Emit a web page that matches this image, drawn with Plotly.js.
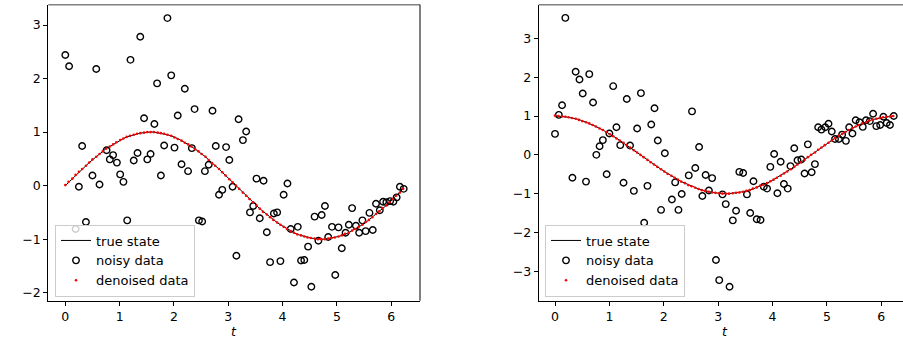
<!DOCTYPE html>
<html>
<head>
<meta charset="utf-8">
<script src="https://cdn.plot.ly/plotly-3.0.1.min.js"></script>
<style>html,body{margin:0;padding:0;background:#fff;}#chart{width:903px;height:342px;}</style>
</head>
<body>
<div id="chart"></div>
<script>
// time grid (shared by true state and denoised data)
const tGrid = [0.00,0.06,0.13,0.19,0.25,0.31,0.38,0.44,0.50,0.57,0.63,0.69,0.75,0.82,0.88,0.94,1.01,1.07,1.13,1.19,
  1.26,1.32,1.38,1.45,1.51,1.57,1.63,1.70,1.76,1.82,1.88,1.95,2.01,2.07,2.14,2.20,2.26,2.32,2.39,2.45,
  2.51,2.58,2.64,2.70,2.76,2.83,2.89,2.95,3.02,3.08,3.14,3.20,3.27,3.33,3.39,3.46,3.52,3.58,3.64,3.71,
  3.77,3.83,3.90,3.96,4.02,4.08,4.15,4.21,4.27,4.34,4.40,4.46,4.52,4.59,4.65,4.71,4.78,4.84,4.90,4.96,
  5.03,5.09,5.15,5.22,5.28,5.34,5.40,5.47,5.53,5.59,5.65,5.72,5.78,5.84,5.91,5.97,6.03,6.09,6.16,6.22];

// left panel
const trueLeft = [0.00,0.06,0.13,0.19,0.25,0.31,0.37,0.43,0.48,0.54,0.59,0.64,0.69,0.73,0.77,0.81,0.84,0.88,0.91,0.93,
  0.95,0.97,0.98,0.99,1.00,1.00,1.00,0.99,0.98,0.97,0.95,0.93,0.91,0.88,0.84,0.81,0.77,0.73,0.69,0.64,
  0.59,0.54,0.48,0.43,0.37,0.31,0.25,0.19,0.13,0.06,0.00,-0.06,-0.13,-0.19,-0.25,-0.31,-0.37,-0.43,-0.48,-0.54,
  -0.59,-0.64,-0.69,-0.73,-0.77,-0.81,-0.84,-0.88,-0.91,-0.93,-0.95,-0.97,-0.98,-0.99,-1.00,-1.00,-1.00,-0.99,-0.98,-0.97,
  -0.95,-0.93,-0.91,-0.88,-0.84,-0.81,-0.77,-0.73,-0.69,-0.64,-0.59,-0.54,-0.48,-0.43,-0.37,-0.31,-0.25,-0.19,-0.13,-0.06];
const denoisedLeft = [0.01,0.07,0.13,0.20,0.26,0.31,0.37,0.43,0.49,0.54,0.59,0.64,0.69,0.73,0.77,0.81,0.85,0.88,0.91,0.93,
  0.95,0.97,0.98,0.99,1.00,1.00,1.00,0.99,0.98,0.97,0.95,0.93,0.90,0.87,0.84,0.80,0.77,0.73,0.68,0.64,
  0.59,0.54,0.48,0.42,0.37,0.31,0.25,0.19,0.12,0.06,0.00,-0.06,-0.13,-0.19,-0.25,-0.31,-0.37,-0.43,-0.49,-0.54,
  -0.59,-0.64,-0.69,-0.73,-0.77,-0.81,-0.85,-0.88,-0.91,-0.93,-0.95,-0.97,-0.98,-0.99,-1.00,-1.00,-1.00,-0.99,-0.98,-0.97,
  -0.95,-0.93,-0.90,-0.88,-0.84,-0.81,-0.77,-0.73,-0.68,-0.64,-0.59,-0.53,-0.48,-0.42,-0.37,-0.31,-0.25,-0.19,-0.13,-0.06];
const noisyLeftT = [0.00,0.07,0.57,1.20,1.38,1.88,1.69,1.95,2.20,2.38,2.71,2.07,1.45,1.64,3.19,0.31,1.82,2.01,2.33,2.77,
  2.96,3.02,0.76,0.88,0.82,0.95,1.33,1.26,1.57,1.51,2.14,2.64,2.26,3.33,3.27,0.25,0.50,0.63,1.01,1.07,
  1.76,2.57,2.89,2.83,3.08,0.38,0.19,1.14,2.46,2.52,3.15,3.52,3.65,3.46,3.40,3.58,3.71,3.84,3.90,3.77,
  3.96,4.09,4.02,4.15,4.28,4.21,4.34,4.40,4.47,4.53,4.59,4.72,4.78,4.66,4.84,4.97,4.91,5.03,5.09,5.16,
  5.22,5.28,5.35,5.41,5.47,5.53,5.60,5.66,5.72,5.79,5.85,5.91,5.98,6.04,6.10,6.16,6.23];
const noisyLeftY = [2.44,2.23,2.18,2.35,2.78,3.13,1.91,2.06,1.81,1.43,1.40,1.31,1.26,1.15,1.24,0.74,0.75,0.71,0.70,0.74,
  0.72,0.48,0.66,0.57,0.49,0.43,0.61,0.47,0.59,0.49,0.40,0.39,0.27,1.01,0.85,-0.02,0.19,0.02,0.21,0.07,
  0.19,0.27,-0.08,-0.17,-0.02,-0.68,-0.81,-0.65,-0.65,-0.67,-1.31,0.13,0.09,-0.38,-0.50,-0.61,-0.87,-0.52,-0.50,-1.43,
  -1.41,0.04,-0.17,-0.81,-0.77,-1.81,-1.40,-1.39,-1.14,-1.89,-0.58,-0.55,-0.38,-1.03,-0.96,-1.67,-0.77,-0.78,-1.17,-0.88,
  -0.73,-0.42,-0.75,-0.88,-0.65,-0.85,-0.51,-0.83,-0.34,-0.46,-0.30,-0.31,-0.29,-0.30,-0.22,-0.02,-0.06];

// right panel
const trueRight = [1.00,1.00,0.99,0.98,0.97,0.95,0.93,0.91,0.88,0.84,0.81,0.77,0.73,0.69,0.64,0.59,0.54,0.48,0.43,0.37,
  0.31,0.25,0.19,0.13,0.06,0.00,-0.06,-0.13,-0.19,-0.25,-0.31,-0.37,-0.43,-0.48,-0.54,-0.59,-0.64,-0.69,-0.73,-0.77,
  -0.81,-0.84,-0.88,-0.91,-0.93,-0.95,-0.97,-0.98,-0.99,-1.00,-1.00,-1.00,-0.99,-0.98,-0.97,-0.95,-0.93,-0.91,-0.88,-0.84,
  -0.81,-0.77,-0.73,-0.69,-0.64,-0.59,-0.54,-0.48,-0.43,-0.37,-0.31,-0.25,-0.19,-0.13,-0.06,0.00,0.06,0.13,0.19,0.25,
  0.31,0.37,0.43,0.48,0.54,0.59,0.64,0.69,0.73,0.77,0.81,0.84,0.88,0.91,0.93,0.95,0.97,0.98,0.99,1.00];
const denoisedRight = [1.01,1.00,0.99,0.98,0.97,0.95,0.93,0.90,0.87,0.84,0.81,0.77,0.73,0.68,0.64,0.59,0.53,0.48,0.42,0.37,
  0.31,0.25,0.19,0.12,0.06,0.00,-0.06,-0.13,-0.19,-0.25,-0.31,-0.37,-0.43,-0.49,-0.54,-0.59,-0.64,-0.69,-0.73,-0.78,
  -0.81,-0.85,-0.88,-0.91,-0.93,-0.95,-0.97,-0.98,-0.99,-1.00,-1.00,-1.00,-0.99,-0.98,-0.97,-0.95,-0.93,-0.91,-0.87,-0.84,
  -0.80,-0.77,-0.73,-0.68,-0.64,-0.59,-0.54,-0.48,-0.43,-0.37,-0.31,-0.25,-0.19,-0.13,-0.06,0.00,0.06,0.13,0.19,0.25,
  0.31,0.37,0.43,0.49,0.54,0.59,0.64,0.69,0.73,0.77,0.81,0.84,0.88,0.91,0.93,0.95,0.97,0.98,0.99,1.00];
const noisyRightT = [0.19,0.38,0.45,0.63,0.51,0.70,1.07,1.32,1.58,1.83,2.52,0.13,0.07,0.00,1.13,1.00,1.51,1.77,0.88,0.82,
  0.76,1.20,1.38,1.89,2.02,2.65,2.58,4.40,4.03,4.15,3.96,4.33,4.46,4.53,4.65,4.78,4.84,4.90,4.97,5.03,
  5.09,5.15,5.22,5.28,5.35,5.41,5.47,5.53,5.60,5.66,5.72,5.79,5.85,5.91,5.98,6.04,6.10,6.16,6.23,0.32,
  0.57,0.95,1.26,1.45,1.70,1.64,1.95,2.15,2.21,2.27,2.33,2.46,2.71,2.77,2.83,2.89,2.96,3.02,3.08,3.14,
  3.21,3.27,3.33,3.39,3.46,3.53,3.59,3.65,3.71,3.78,3.84,3.90,4.09,4.21,4.28,4.59,4.72];
const noisyRightY = [3.53,2.14,1.94,2.08,1.58,1.35,1.77,1.44,1.59,1.20,1.12,1.28,1.03,0.54,0.71,0.55,0.68,0.78,0.38,0.22,
  0.00,0.25,0.24,0.37,0.04,0.20,-0.34,0.17,0.02,-0.18,-0.31,-0.29,-0.14,-0.12,0.27,-0.24,0.71,0.65,0.71,0.80,
  0.60,0.41,0.41,0.52,0.36,0.71,0.55,0.89,0.84,0.72,0.89,0.87,1.06,0.74,0.77,0.98,0.82,0.77,1.00,-0.59,
  -0.69,-0.50,-0.72,-0.93,-0.80,-1.75,-1.42,-1.15,-0.71,-1.42,-1.01,-0.53,-1.06,-0.52,-0.92,-0.60,-2.71,-3.23,-1.02,-1.27,
  -3.40,-1.69,-1.44,-0.44,-0.47,-1.02,-1.50,-0.68,-1.66,-1.68,-0.82,-0.87,-0.99,-0.75,-0.87,-0.48,-0.45];

const FONT = 'DejaVu Sans, sans-serif';
const LABELS = ['true state', 'noisy data', 'denoised data'];

function traces(xa, ya, leg, trueY, noisyT, noisyY, denY) {
  return [
    {x: tGrid, y: trueY, xaxis: xa, yaxis: ya, legend: leg, name: LABELS[0], mode: 'lines',
     line: {color: '#000000', width: 1}},
    {x: noisyT, y: noisyY, xaxis: xa, yaxis: ya, legend: leg, name: LABELS[1], mode: 'markers',
     marker: {symbol: 'circle-open', size: 6.5, color: '#000000', line: {width: 1.4, color: '#000000'}}},
    {x: tGrid, y: denY, xaxis: xa, yaxis: ya, legend: leg, name: LABELS[2], mode: 'markers',
     marker: {symbol: 'circle', size: 2.6, color: '#ff0000'}}
  ];
}

const data = [].concat(
  traces('x', 'y', 'legend', trueLeft, noisyLeftT, noisyLeftY, denoisedLeft),
  traces('x2', 'y2', 'legend2', trueRight, noisyRightT, noisyRightY, denoisedRight)
);

const axBase = {
  showgrid: false, zeroline: false, showline: true, linecolor: '#000000', linewidth: 1,
  ticks: 'outside', ticklen: 4, tickwidth: 1, tickcolor: '#000000', dtick: 1, tick0: 0,
  tickfont: {family: FONT, size: 12.5, color: '#000000'}, mirror: false, fixedrange: true
};
const yDom = [1 - 300.7 / 342, 1 - 4.7 / 342];
const legBase = {
  font: {family: FONT, size: 13, color: '#000000'}, bgcolor: 'rgba(255,255,255,0.8)',
  bordercolor: '#cccccc', borderwidth: 1, xanchor: 'left', yanchor: 'bottom', tracegroupgap: 0
};

const layout = {
  width: 903, height: 342,
  margin: {l: 0, r: 0, t: 0, b: 0},
  paper_bgcolor: '#ffffff', plot_bgcolor: '#ffffff',
  font: {family: FONT, size: 12.5, color: '#000000'},
  showlegend: true,
  xaxis: Object.assign({}, axBase, {domain: [48.3 / 903, 420 / 903], range: [-0.313, 6.53], anchor: 'y'}),
  yaxis: Object.assign({}, axBase, {domain: yDom, range: [-2.15, 3.38], anchor: 'x'}),
  xaxis2: Object.assign({}, axBase, {domain: [538.7 / 903, 1], range: [-0.30, 6.40], anchor: 'y2'}),
  yaxis2: Object.assign({}, axBase, {domain: yDom, range: [-3.76, 3.87], anchor: 'x2'}),
  legend: Object.assign({}, legBase, {x: 55 / 903, y: 1 - 296.5 / 342}),
  legend2: Object.assign({}, legBase, {x: 545 / 903, y: 1 - 296.5 / 342}),
  shapes: [
    {type: 'line', xref: 'x domain', yref: 'y domain', x0: 0, x1: 1, y0: 1, y1: 1, line: {color: '#808080', width: 1.5}},
    {type: 'line', xref: 'x domain', yref: 'y domain', x0: 1, x1: 1, y0: 0, y1: 1, line: {color: '#000000', width: 1}},
    {type: 'line', xref: 'x2 domain', yref: 'y2 domain', x0: 0, x1: 1, y0: 1, y1: 1, line: {color: '#808080', width: 1.5}}
  ],
  annotations: [
    {text: '<i>t</i>', xref: 'x', yref: 'paper', x: 3.11, y: 1 - 331 / 342, showarrow: false,
     xanchor: 'center', yanchor: 'middle', font: {family: FONT, size: 12.5, color: '#000000'}},
    {text: '<i>t</i>', xref: 'x2', yref: 'paper', x: 3.12, y: 1 - 331 / 342, showarrow: false,
     xanchor: 'center', yanchor: 'middle', font: {family: FONT, size: 12.5, color: '#000000'}}
  ]
};

Plotly.newPlot('chart', data, layout, {displayModeBar: false, staticPlot: true});
</script>
</body>
</html>
